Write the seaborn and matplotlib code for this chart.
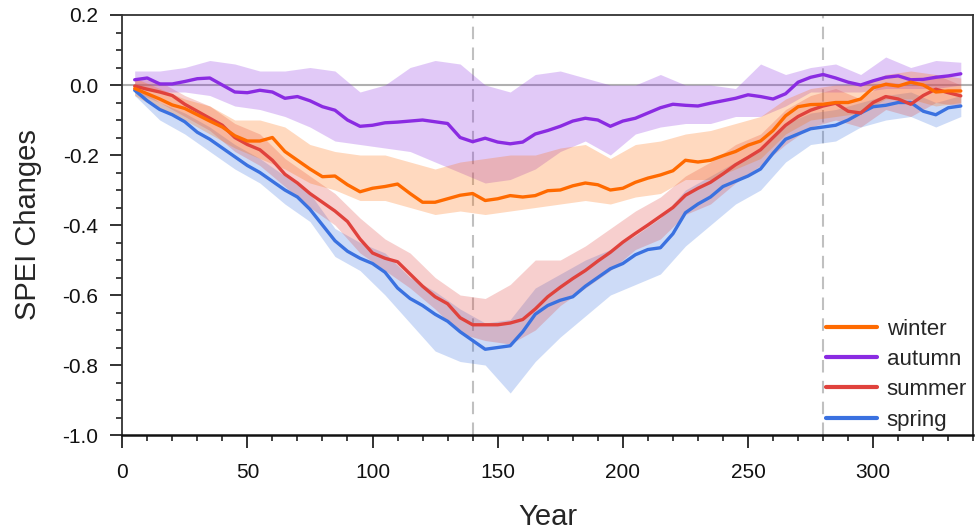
import numpy as np
import pandas as pd
import matplotlib
matplotlib.use("Agg")
import matplotlib.pyplot as plt
import seaborn as sns
from matplotlib.ticker import MultipleLocator, FormatStrFormatter

# mean curves, read every 5 years
years = list(range(5, 340, 5))

winter = [-0.010, -0.025, -0.040, -0.057, -0.067, -0.085, -0.103, -0.120, -0.145, -0.160,
          -0.160, -0.150, -0.190, -0.215, -0.240, -0.262, -0.260, -0.285, -0.305, -0.295,
          -0.290, -0.283, -0.310, -0.335, -0.335, -0.325, -0.315, -0.310, -0.330, -0.325,
          -0.316, -0.320, -0.316, -0.302, -0.300, -0.288, -0.280, -0.285, -0.300, -0.295,
          -0.278, -0.266, -0.257, -0.245, -0.215, -0.220, -0.215, -0.202, -0.190, -0.172,
          -0.160, -0.130, -0.088, -0.062, -0.056, -0.055, -0.050, -0.050, -0.040, -0.008,
          0.002, -0.003, 0.008, 0.000, -0.020, -0.017, -0.017]

autumn = [0.015, 0.020, 0.003, 0.003, 0.010, 0.018, 0.020, 0.000, -0.020, -0.022,
          -0.015, -0.020, -0.038, -0.033, -0.045, -0.062, -0.072, -0.100, -0.118, -0.115,
          -0.108, -0.106, -0.103, -0.100, -0.105, -0.110, -0.150, -0.162, -0.152, -0.163,
          -0.168, -0.163, -0.140, -0.130, -0.118, -0.103, -0.095, -0.100, -0.118, -0.103,
          -0.095, -0.080, -0.065, -0.055, -0.058, -0.060, -0.052, -0.045, -0.038, -0.028,
          -0.033, -0.040, -0.025, 0.008, 0.022, 0.030, 0.020, 0.008, 0.000, 0.012,
          0.022, 0.026, 0.015, 0.016, 0.022, 0.026, 0.032]

summer = [-0.003, -0.012, -0.020, -0.030, -0.055, -0.075, -0.095, -0.115, -0.150, -0.170,
          -0.185, -0.215, -0.255, -0.280, -0.310, -0.335, -0.360, -0.390, -0.440, -0.480,
          -0.495, -0.505, -0.540, -0.575, -0.605, -0.625, -0.665, -0.685, -0.685, -0.685,
          -0.680, -0.670, -0.640, -0.605, -0.578, -0.553, -0.530, -0.503, -0.478, -0.449,
          -0.424, -0.400, -0.375, -0.350, -0.315, -0.295, -0.278, -0.254, -0.228, -0.207,
          -0.185, -0.150, -0.115, -0.090, -0.072, -0.060, -0.052, -0.075, -0.080, -0.050,
          -0.033, -0.040, -0.055, -0.030, -0.012, -0.022, -0.031]

spring = [-0.015, -0.045, -0.070, -0.085, -0.105, -0.135, -0.155, -0.180, -0.205, -0.230,
          -0.250, -0.275, -0.300, -0.320, -0.355, -0.400, -0.445, -0.475, -0.495, -0.510,
          -0.535, -0.580, -0.610, -0.630, -0.655, -0.675, -0.705, -0.730, -0.755, -0.750,
          -0.745, -0.705, -0.655, -0.630, -0.615, -0.605, -0.575, -0.550, -0.525, -0.510,
          -0.485, -0.470, -0.465, -0.425, -0.365, -0.340, -0.320, -0.290, -0.275, -0.260,
          -0.240, -0.195, -0.155, -0.140, -0.125, -0.120, -0.115, -0.100, -0.080, -0.062,
          -0.058, -0.050, -0.050, -0.075, -0.085, -0.065, -0.060]

# uncertainty bands, read every 10 years
band_years = list(range(5, 340, 10))

winter_lo = [-0.03, -0.07, -0.10, -0.14, -0.18, -0.21, -0.24, -0.28, -0.30, -0.33, -0.33, -0.35,
             -0.37, -0.36, -0.37, -0.36, -0.35, -0.34, -0.33, -0.34, -0.32, -0.31, -0.27, -0.27,
             -0.24, -0.21, -0.14, -0.10, -0.09, -0.08, -0.04, -0.04, -0.06, -0.05]
winter_hi = [0.02, -0.01, -0.04, -0.06, -0.10, -0.10, -0.12, -0.17, -0.19, -0.20, -0.20, -0.22,
             -0.24, -0.22, -0.21, -0.20, -0.20, -0.18, -0.17, -0.21, -0.17, -0.16, -0.14, -0.13,
             -0.11, -0.09, -0.04, -0.01, 0.00, 0.00, 0.03, 0.04, 0.03, 0.02]

autumn_lo = [-0.01, -0.02, -0.02, -0.03, -0.06, -0.07, -0.09, -0.12, -0.16, -0.17, -0.18, -0.19,
             -0.22, -0.25, -0.28, -0.27, -0.24, -0.19, -0.16, -0.20, -0.14, -0.12, -0.11, -0.11,
             -0.09, -0.09, -0.06, -0.02, -0.02, -0.02, -0.01, -0.01, -0.01, 0.00]
autumn_hi = [0.04, 0.04, 0.05, 0.07, 0.06, 0.04, 0.04, 0.05, 0.04, -0.02, 0.00, 0.05,
             0.07, 0.06, 0.00, -0.02, 0.03, 0.04, 0.02, 0.00, 0.00, 0.03, 0.00, 0.00,
             -0.01, 0.06, 0.03, 0.05, 0.06, 0.03, 0.08, 0.05, 0.07, 0.065]

summer_lo = [-0.02, -0.05, -0.09, -0.13, -0.19, -0.23, -0.29, -0.35, -0.40, -0.48, -0.53, -0.58,
             -0.64, -0.71, -0.73, -0.74, -0.70, -0.63, -0.58, -0.53, -0.47, -0.44, -0.37, -0.34,
             -0.28, -0.23, -0.17, -0.12, -0.10, -0.12, -0.07, -0.09, -0.05, -0.06]
summer_hi = [0.02, 0.01, -0.03, -0.06, -0.11, -0.14, -0.21, -0.26, -0.31, -0.38, -0.44, -0.48,
             -0.55, -0.60, -0.61, -0.57, -0.50, -0.50, -0.46, -0.41, -0.36, -0.32, -0.26, -0.22,
             -0.17, -0.14, -0.07, -0.03, -0.01, -0.04, 0.01, 0.00, 0.03, 0.00]

spring_lo = [-0.03, -0.10, -0.14, -0.19, -0.24, -0.28, -0.34, -0.39, -0.49, -0.53, -0.60, -0.68,
             -0.76, -0.79, -0.80, -0.88, -0.79, -0.72, -0.66, -0.60, -0.57, -0.54, -0.46, -0.40,
             -0.34, -0.30, -0.22, -0.17, -0.16, -0.12, -0.10, -0.09, -0.12, -0.09]
spring_hi = [0.00, -0.05, -0.08, -0.12, -0.17, -0.21, -0.26, -0.31, -0.41, -0.45, -0.48, -0.55,
             -0.59, -0.64, -0.68, -0.67, -0.58, -0.54, -0.50, -0.47, -0.43, -0.38, -0.30, -0.26,
             -0.22, -0.18, -0.11, -0.08, -0.07, -0.05, -0.03, -0.02, -0.05, -0.03]

seasons = ["winter", "autumn", "summer", "spring"]
colors = {"winter": "#ff6a00", "autumn": "#8a2be2", "summer": "#e0423c", "spring": "#3a71e0"}

means = {"winter": winter, "autumn": autumn, "summer": summer, "spring": spring}
bands = {"winter": (winter_lo, winter_hi), "autumn": (autumn_lo, autumn_hi),
         "summer": (summer_lo, summer_hi), "spring": (spring_lo, spring_hi)}

df = pd.concat([pd.DataFrame({"year": years, "value": means[s], "season": s}) for s in seasons],
               ignore_index=True)

sns.set_style("white")
plt.rcParams["font.family"] = ["Liberation Sans", "DejaVu Sans"]
plt.rcParams["axes.unicode_minus"] = False

fig = plt.figure(figsize=(9.79, 5.30), dpi=100)
ax = fig.add_axes([0.1248, 0.1792, 0.8694, 0.7925])

ax.axhline(0, color="#b0b0b0", lw=1.5, zorder=1)
for xv in [140, 280]:
    ax.axvline(xv, color="#c0c0c0", lw=1.5, ls=(0, (6, 4)), zorder=1)

for s in seasons[::-1]:
    lo, hi = bands[s]
    ax.fill_between(band_years, lo, hi, color=colors[s], alpha=0.25, lw=0, zorder=2)

sns.lineplot(data=df, x="year", y="value", hue="season", hue_order=seasons[::-1],
             palette=colors, lw=2.4, ax=ax, zorder=3, legend=False)

ax.set_xlim(0, 340)
ax.set_ylim(-1.0, 0.2)
ax.xaxis.set_major_locator(MultipleLocator(50))
ax.xaxis.set_minor_locator(MultipleLocator(10))
ax.yaxis.set_major_locator(MultipleLocator(0.2))
ax.yaxis.set_minor_locator(MultipleLocator(0.05))
ax.yaxis.set_major_formatter(FormatStrFormatter("%.1f"))

ax.tick_params(axis="both", which="major", direction="out", length=9, width=1.3,
               labelsize=15, color="#222222", labelcolor="#111111")
ax.tick_params(axis="both", which="minor", direction="out", length=4.5, width=1.2, color="#222222")
ax.tick_params(axis="x", which="both", bottom=True, top=False, pad=11)
ax.tick_params(axis="y", which="both", left=True, right=False, pad=8)

for side in ["top", "right", "left", "bottom"]:
    ax.spines[side].set_color("#333333")
    ax.spines[side].set_linewidth(1.3)
ax.spines["bottom"].set_color("#111111")
ax.spines["bottom"].set_linewidth(1.8)

ax.set_xlabel("Year", fontsize=21)
ax.set_ylabel("SPEI Changes", fontsize=21)
ax.xaxis.set_label_coords(0.5, -0.162)
ax.yaxis.set_label_coords(-0.094, 0.5)

handles = [plt.Line2D([], [], color=colors[s], lw=3) for s in seasons]
ax.legend(handles, seasons, loc="lower right", bbox_to_anchor=(1.016, -0.037), frameon=False,
          fontsize=16, handlelength=2.3, handletextpad=0.45, labelspacing=0.42)

fig.savefig("out.png", dpi=100)
